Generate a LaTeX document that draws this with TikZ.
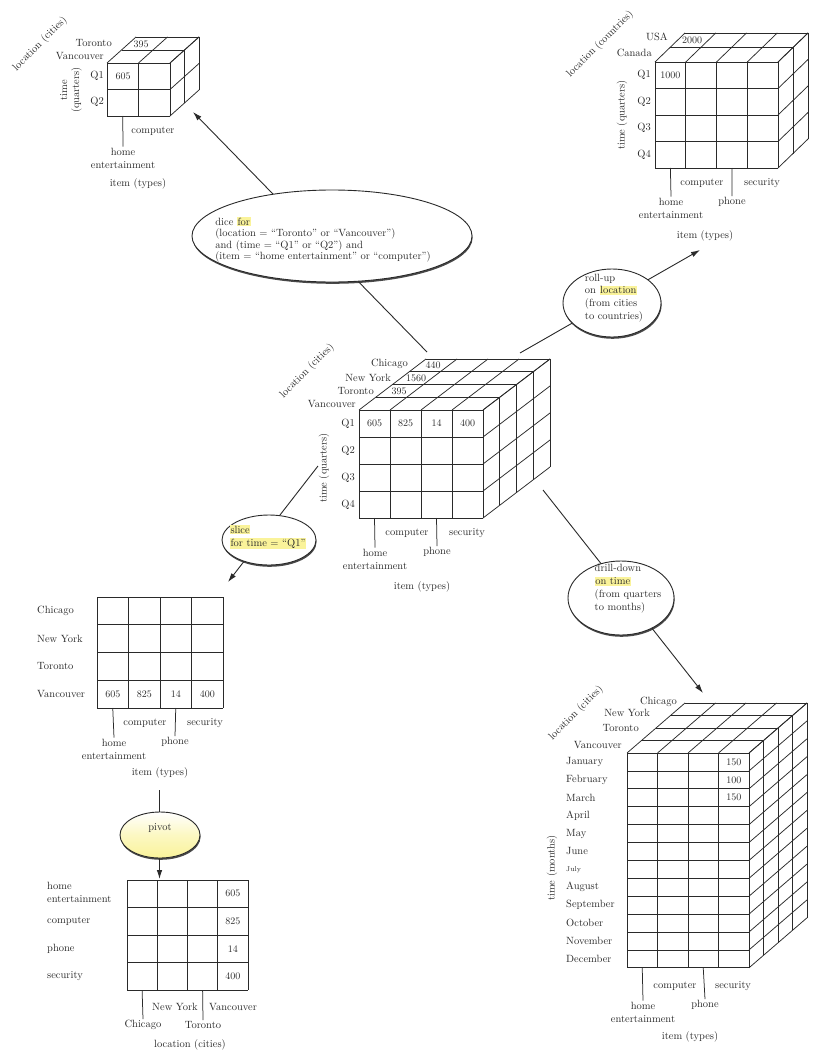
\documentclass[tikz,border=0pt]{standalone}
\usetikzlibrary{arrows.meta, shapes.geometric, shadows, positioning}
\definecolor{inkgray}{HTML}{2A2A2A}
\definecolor{hlyellow}{HTML}{FAF39A}
\newcommand{\hl}[1]{{\setlength{\fboxsep}{0.6pt}\colorbox{hlyellow}{#1}}}
% front face of a cube or a flat table: x0 y0 cols rows cw rh
\newcommand{\facegrid}[6]{%
  \foreach \i in {0,...,#3}
    \draw[cell] ({#1+\i*#5},#2) -- ++(0,{#4*#6});
  \foreach \j in {0,...,#4}
    \draw[cell] (#1,{#2+\j*#6}) -- ++({#3*#5},0);
}
% top and right faces: x0 y0 cols rows layers cw rh dx dy
\newcommand{\depthgrid}[9]{%
  \foreach \i in {0,...,#3}
    \draw[cell] ({#1+\i*#6},#2) -- ++({#5*#8},{-#5*#9});
  \foreach \k in {1,...,#5}
    \draw[cell] ({#1+\k*#8},{#2-\k*#9}) -- ++({#3*#6},0);
  \foreach \j in {0,...,#4}
    \draw[cell] ({#1+#3*#6},{#2+\j*#7}) -- ++({#5*#8},{-#5*#9});
  \foreach \k in {1,...,#5}
    \draw[cell] ({#1+#3*#6+\k*#8},{#2-\k*#9}) -- ++(0,{#4*#7});
}

\begin{document}
\begin{tikzpicture}[x=1pt, y=-1pt,
    cell/.style={draw=inkgray, line width=0.75pt},
    lbl/.style={font=\fontsize{10.5}{13}\selectfont, text=inkgray, inner sep=1pt, align=center},
    val/.style={font=\fontsize{10}{12}\selectfont, text=inkgray, inner sep=0pt},
    optext/.style={font=\fontsize{10.5}{11.5}\selectfont, text=inkgray, align=left, inner sep=0pt},
    oval/.style={ellipse, draw=inkgray, line width=0.9pt, fill=white, inner sep=0pt,
                 drop shadow={shadow xshift=0.6pt, shadow yshift=-1.8pt, fill=inkgray, opacity=0.85}},
    arr/.style={-{Latex[length=9pt, width=5.5pt]}, line width=0.9pt, inkgray}
  ]
  \fill[white] (0,0) rectangle (818,1057);
  \useasboundingbox (0,0) rectangle (818,1057);

  % central cube
  \facegrid{359}{410}{4}{4}{31}{27}
  \depthgrid{359}{410}{4}{4}{4}{31}{27}{16.75}{12.75}
  \node[lbl, anchor=east] (cc-van) at (357,404) {Vancouver};
  \node[lbl, anchor=east] (cc-tor) at (375,391) {Toronto};
  \node[lbl, anchor=east] (cc-ny) at (392,378) {New York};
  \node[lbl, anchor=east] (cc-chi) at (409,364) {Chicago};
  \node[val] (cc-t395) at (399,391) {395};
  \node[val] (cc-t1560) at (416,378) {1560};
  \node[val] (cc-t440) at (433,365) {440};
  \foreach \q [count=\k from 0] in {Q1,Q2,Q3,Q4}
    \node[lbl, anchor=east] (cc-q\k) at (356,{410+27*(\k+0.5)}) {\q};
  \foreach \v [count=\k from 0] in {605,825,14,400}
    \node[val] (cc-v\k) at ({359+31*(\k+0.5)},423.5) {\v};
  \node[lbl, rotate=90] (cc-time) at (324,468) {time (quarters)};
  \node[lbl, rotate=45] (cc-loc) at (307,371) {location (cities)};
  \node[lbl] (cc-comp) at (407,533) {computer};
  \node[lbl] (cc-sec) at (467,533) {security};
  \node[lbl] (cc-home) at (375,559) {home\\entertainment};
  \node[lbl] (cc-phone) at (437,552) {phone};
  \node[lbl] (cc-item) at (422,587) {item (types)};
  \draw[cell] (374.5,518) -- (cc-home.north);
  \draw[cell] (436.5,518) -- (cc-phone.north);

  % dice result (top left)
  \facegrid{107}{63}{2}{2}{31.5}{26.5}
  \depthgrid{107}{63}{2}{2}{2}{31.5}{26.5}{14.5}{13}
  \node[lbl, anchor=east] (tl-tor) at (113,43) {Toronto};
  \node[lbl, anchor=east] (tl-van) at (105,56) {Vancouver};
  \node[val] (tl-t395) at (141,44) {395};
  \node[lbl, anchor=east] (tl-q1) at (105,76) {Q1};
  \node[lbl, anchor=east] (tl-q2) at (105,102) {Q2};
  \node[val] (tl-v605) at (123,76) {605};
  \node[lbl, rotate=90, font=\fontsize{10.5}{12}\selectfont] (tl-time) at (71,90) {time\\(quarters)};
  \node[lbl, rotate=45] (tl-loc) at (40,44) {location (cities)};
  \node[lbl] (tl-comp) at (153,131) {computer};
  \node[lbl] (tl-home) at (123,158) {home\\entertainment};
  \node[lbl] (tl-item) at (138,184) {item (types)};
  \draw[cell] (122.75,116) -- (tl-home.north);

  % roll-up result (top right)
  \facegrid{655}{62}{4}{4}{30.75}{26.5}
  \depthgrid{655}{62}{4}{4}{2}{30.75}{26.5}{15}{14.5}
  \node[lbl, anchor=east] (tr-usa) at (669,37) {USA};
  \node[lbl, anchor=east] (tr-can) at (653,53) {Canada};
  \node[val] (tr-t2000) at (692,40) {2000};
  \foreach \q [count=\k from 0] in {Q1,Q2,Q3,Q4}
    \node[lbl, anchor=east] (tr-q\k) at (652,{62+26.5*(\k+0.5)}) {\q};
  \node[val] (tr-v1000) at (670.4,75.5) {1000};
  \node[lbl, rotate=90] (tr-time) at (622,115) {time (quarters)};
  \node[lbl, rotate=45] (tr-loc) at (600,44) {location (countries)};
  \node[lbl] (tr-comp) at (702,183) {computer};
  \node[lbl] (tr-sec) at (762,183) {security};
  \node[lbl] (tr-home) at (671,208) {home\\entertainment};
  \node[lbl] (tr-phone) at (732,202) {phone};
  \node[lbl] (tr-item) at (705,236) {item (types)};
  \draw[cell] (670.4,168) -- (tr-home.north);
  \draw[cell] (731.9,168) -- (tr-phone.north);

  % slice result
  \facegrid{97}{597}{4}{4}{31.5}{27.75}
  \foreach \c [count=\k from 0] in {Chicago,New York,Toronto,Vancouver}
    \node[lbl, anchor=west] (sl-r\k) at (36,{597+27.75*(\k+0.5)}) {\c};
  \foreach \v [count=\k from 0] in {605,825,14,400}
    \node[val] (sl-v\k) at ({97+31.5*(\k+0.5)},694) {\v};
  \node[lbl] (sl-comp) at (145,723) {computer};
  \node[lbl] (sl-sec) at (205,723) {security};
  \node[lbl] (sl-home) at (114,749) {home\\entertainment};
  \node[lbl] (sl-phone) at (175,742) {phone};
  \node[lbl] (sl-item) at (160,773) {item (types)};
  \draw[cell] (112.75,708) -- (sl-home.north);
  \draw[cell] (175.75,708) -- (sl-phone.north);

  % pivot result
  \facegrid{127}{880}{4}{4}{30.25}{27.5}
  \node[lbl, anchor=west, align=left] (pv-r0) at (46,892) {home\\entertainment};
  \foreach \c [count=\k from 1] in {computer,phone,security}
    \node[lbl, anchor=west] (pv-r\k) at (46,{880+27.5*(\k+0.5)}) {\c};
  \foreach \v [count=\k from 0] in {605,825,14,400}
    \node[val] (pv-v\k) at (232.9,{880+27.5*(\k+0.5)}) {\v};
  \node[lbl] (pv-ny) at (175,1007) {New York};
  \node[lbl] (pv-van) at (233,1007) {Vancouver};
  \node[lbl] (pv-chi) at (143,1025) {Chicago};
  \node[lbl] (pv-tor) at (203,1025) {Toronto};
  \node[lbl] (pv-loc) at (190,1045) {location (cities)};
  \draw[cell] (142.1,990) -- (pv-chi.north);
  \draw[cell] (202.6,990) -- (pv-tor.north);

  % drill-down result
  \facegrid{627}{753}{4}{12}{30.5}{17.9}
  \depthgrid{627}{753}{4}{12}{4}{30.5}{17.9}{14.5}{12.5}
  \node[lbl, anchor=east] (dr-van) at (623,745) {Vancouver};
  \node[lbl, anchor=east] (dr-tor) at (640,728) {Toronto};
  \node[lbl, anchor=east] (dr-ny) at (651,713) {New York};
  \node[lbl, anchor=east] (dr-chi) at (678,702) {Chicago};
  \foreach \m [count=\k from 0] in {January,February,March,April,May,June,
      {\fontsize{7}{8}\selectfont July},August,September,October,November,December}
    \node[lbl, anchor=west] (dr-m\k) at (565,{753+17.9*(\k+0.5)}) {\m};
  \foreach \v [count=\k from 0] in {150,100,150}
    \node[val] (dr-v\k) at (733.75,{753+17.9*(\k+0.5)}) {\v};
  \node[lbl, rotate=90] (dr-time) at (552,868) {time (months)};
  \node[lbl, rotate=45] (dr-loc) at (576,713) {location (cities)};
  \node[lbl] (dr-comp) at (675,986) {computer};
  \node[lbl] (dr-sec) at (733,986) {security};
  \node[lbl] (dr-home) at (643,1012) {home\\entertainment};
  \node[lbl] (dr-phone) at (705,1005) {phone};
  \node[lbl] (dr-item) at (690,1037) {item (types)};
  \draw[cell] (642.25,968) -- (dr-home.north);
  \draw[cell] (703.25,968) -- (dr-phone.north);

  % operation arrows
  \coordinate (cc-dicefoot) at (427,352);
  \coordinate (tl-tip) at (193,112);
  \coordinate (cc-rollfoot) at (520,353);
  \coordinate (tr-tip) at (700,250);
  \coordinate (cc-slicefoot) at (318,466);
  \coordinate (sl-tip) at (228,582);
  \coordinate (cc-drillfoot) at (543,490);
  \coordinate (dr-tip) at (703,693);
  \coordinate (sl-pivotfoot) at (159.5,790);
  \coordinate (pv-tip) at (159.5,879);
  \draw[arr] (cc-dicefoot) -- (tl-tip);
  \draw[arr] (cc-rollfoot) -- (tr-tip);
  \draw[arr] (cc-slicefoot) -- (sl-tip);
  \draw[arr] (cc-drillfoot) -- (dr-tip);
  \draw[arr] (sl-pivotfoot) -- (pv-tip);

  % operation ellipses
  \node[oval, minimum width=280pt, minimum height=92pt] (dice) at (332,236) {};
  \node[optext] (dice-txt) at (323,240) {dice \hl{for}\\
    (location = ``Toronto'' or ``Vancouver'')\\
    and (time = ``Q1'' or ``Q2'') and\\
    (item = ``home entertainment'' or ``computer'')};
  \node[oval, minimum width=98pt, minimum height=68pt] (rollup) at (612,303) {};
  \node[optext, font=\fontsize{10.5}{12.8}\selectfont] (rollup-txt) at (614,298)
    {roll-up\\on \hl{location}\\(from cities\\to countries)};
  \node[oval, minimum width=94pt, minimum height=50pt] (slice) at (269,540) {};
  \node[optext, font=\fontsize{10.5}{13}\selectfont] (slice-txt) at (268,537)
    {\hl{slice}\\\hl{for time = ``Q1''}};
  \node[oval, minimum width=106pt, minimum height=74pt] (drill) at (621,598) {};
  \node[optext, font=\fontsize{10.5}{13}\selectfont] (drill-txt) at (628,589)
    {drill-down\\\hl{on time}\\(from quarters\\to months)};
  \node[oval, minimum width=80pt, minimum height=46pt, top color=white,
        bottom color=hlyellow, middle color=white!40!hlyellow] (pivot) at (160,835) {};
  \node[optext] (pivot-txt) at (160,828) {pivot};
\end{tikzpicture}
\end{document}
